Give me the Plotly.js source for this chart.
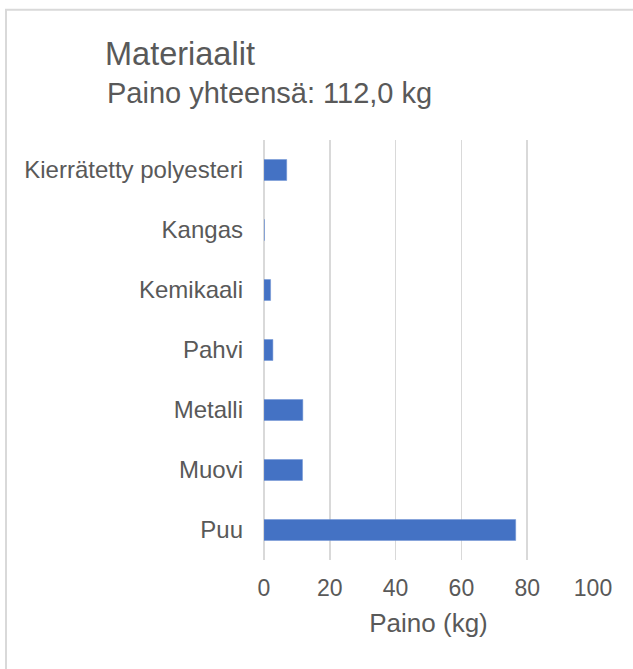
<!DOCTYPE html>
<html>
<head>
<meta charset="utf-8">
<script src="https://cdn.plot.ly/plotly-3.0.1.min.js"></script>
<style>
html,body{margin:0;padding:0;background:#fff;}
#chart{width:633px;height:669px;}
</style>
</head>
<body>
<div id="chart"></div>
<script>
const categories = ["Puu", "Muovi", "Metalli", "Pahvi", "Kemikaali", "Kangas", "Kierrätetty polyesteri"];
const weights = [76.5, 11.7, 11.8, 2.7, 2.0, 0.1, 6.9];
const xTicks = [0, 20, 40, 60, 80, 100];
const chartTitle = "Materiaalit";
const chartSubtitle = "Paino yhteensä: 112,0 kg";
const xTitle = "Paino (kg)";

const textColor = "#595959";
const fontFam = "Liberation Sans, Arial, sans-serif";

const L = 264, R = 593, T = 140, B = 560.5, W = 633, H = 669;
const pw = R - L, ph = B - T;
const px = x => (x - L) / pw;
const py = y => (B - y) / ph;

const data = [{
  type: "bar",
  orientation: "h",
  y: categories,
  x: weights,
  marker: {color: "#4472c4", line: {color: "#6f93d4", width: 0.5}},
  hoverinfo: "x+y"
}];

const layout = {
  width: W, height: H,
  margin: {l: L, r: W - R, t: T, b: H - B, pad: 0},
  paper_bgcolor: "#ffffff",
  plot_bgcolor: "#ffffff",
  bargap: 0.65,
  showlegend: false,
  font: {family: fontFam, color: textColor},
  title: {
    text: chartTitle,
    font: {size: 32.5, color: textColor, family: fontFam},
    x: 105 / W, xref: "container", xanchor: "left",
    y: 1 - 54 / H, yref: "container", yanchor: "middle",
    pad: {l: 0, r: 0, t: 0, b: 0}
  },
  annotations: [{
    text: chartSubtitle,
    xref: "paper", yref: "paper",
    x: px(105), y: py(93),
    xanchor: "left", yanchor: "middle",
    showarrow: false,
    font: {size: 29, color: textColor, family: fontFam}
  }],
  xaxis: {
    range: [0, 100],
    tickvals: xTicks,
    ticktext: xTicks.map(String),
    showgrid: true,
    gridcolor: "#d9d9d9",
    gridwidth: 1.5,
    zeroline: true,
    zerolinecolor: "#d9d9d9",
    zerolinewidth: 1.5,
    showline: false,
    ticks: "",
    tickfont: {size: 23, color: textColor, family: fontFam},
    ticklabelstandoff: 12,
    title: {text: xTitle, font: {size: 26, color: textColor, family: fontFam}, standoff: 13},
    fixedrange: true
  },
  yaxis: {
    type: "category",
    categoryorder: "array",
    categoryarray: categories,
    showgrid: false,
    showline: false,
    ticks: "",
    tickfont: {size: 24, color: textColor, family: fontFam},
    ticklabelstandoff: 20,
    automargin: false,
    fixedrange: true
  },
  shapes: [{
    type: "rect", xref: "paper", yref: "paper",
    x0: px(6), x1: px(640), y0: py(680), y1: py(9.5),
    line: {color: "#d9d9d9", width: 2},
    fillcolor: "rgba(0,0,0,0)",
    layer: "below"
  }]
};

Plotly.newPlot("chart", data, layout, {displayModeBar: false, staticPlot: true});
</script>
</body>
</html>
